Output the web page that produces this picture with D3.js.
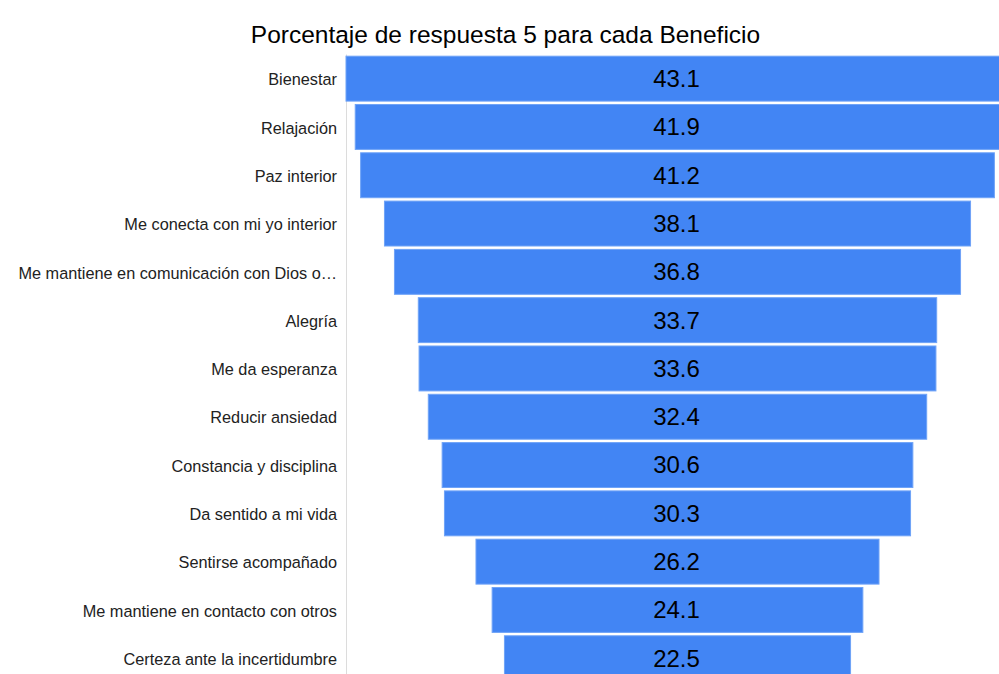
<!DOCTYPE html>
<html>
<head>
<meta charset="utf-8">
<script src="https://cdn.jsdelivr.net/npm/d3@7"></script>
<style>
  body { margin: 0; background: #fff; }
  text { font-family: Arial, "Liberation Sans", sans-serif; }
</style>
</head>
<body>
<svg id="canvas"></svg>
<script>
// Chart data.
var beneficios = ['Bienestar', 'Relajación', 'Paz interior', 'Me conecta con mi yo interior',
  'Me mantiene en comunicación con Dios o…', 'Alegría', 'Me da esperanza', 'Reducir ansiedad',
  'Constancia y disciplina', 'Da sentido a mi vida', 'Sentirse acompañado',
  'Me mantiene en contacto con otros', 'Certeza ante la incertidumbre'];
var porcentajes = [43.1, 41.9, 41.2, 38.1, 36.8, 33.7, 33.6, 32.4, 30.6, 30.3, 26.2, 24.1, 22.5];
var titulo = 'Porcentaje de respuesta 5 para cada Beneficio';

// Canvas dimensions.
var canvasWidth = 999;
var canvasHeight = 674;

// Plot area.
var plotLeft = 346;
var plotWidth = 663;
var plotTop = 54.5;
var rowHeight = 48.3;

var svg = d3.select('#canvas')
            .attr('width', canvasWidth)
            .attr('height', canvasHeight);

var maxVal = d3.max(porcentajes);

// Funnel: bars centred on zero.
var xScale = d3.scaleLinear()
               .domain([-maxVal / 2, maxVal / 2])
               .range([plotLeft, plotLeft + plotWidth]);

var yScale = d3.scaleBand()
               .domain(beneficios)
               .range([plotTop, plotTop + rowHeight * beneficios.length])
               .paddingInner(0.07)
               .paddingOuter(0.035);

// Title.
svg.append('text')
   .attr('x', 505.5)
   .attr('y', 42.5)
   .attr('text-anchor', 'middle')
   .attr('font-size', 24.5)
   .attr('fill', '#000')
   .text(titulo);

// Left axis line.
svg.append('line')
   .attr('x1', plotLeft + 0.5)
   .attr('x2', plotLeft + 0.5)
   .attr('y1', plotTop)
   .attr('y2', canvasHeight)
   .attr('stroke', '#dcdcdc');

// Category labels.
var yAxis = d3.axisLeft(yScale).tickSize(0).tickPadding(9);
var gy = svg.append('g')
            .attr('transform', 'translate(' + plotLeft + ',1.5)')
            .call(yAxis);
gy.select('.domain').remove();
gy.selectAll('text')
  .attr('font-size', 16.3)
  .attr('font-family', 'Arial, "Liberation Sans", sans-serif')
  .attr('fill', '#222');

// Bars.
svg.selectAll('rect.bar')
   .data(porcentajes)
   .enter()
   .append('rect')
   .attr('class', 'bar')
   .attr('x', function(d) { return xScale(-d / 2); })
   .attr('y', function(d, i) { return yScale(beneficios[i]); })
   .attr('width', function(d) { return xScale(d / 2) - xScale(-d / 2); })
   .attr('height', yScale.bandwidth())
   .attr('fill', '#4285f4')
   .attr('stroke', '#6fa3f7')
   .attr('stroke-width', 1);

// Value labels.
svg.selectAll('text.value')
   .data(porcentajes)
   .enter()
   .append('text')
   .attr('class', 'value')
   .attr('x', xScale(0) - 1)
   .attr('y', function(d, i) { return yScale(beneficios[i]) + yScale.bandwidth() / 2; })
   .attr('dy', '0.35em')
   .attr('text-anchor', 'middle')
   .attr('font-size', 24)
   .attr('fill', '#000')
   .text(function(d) { return d.toFixed(1); });
</script>
</body>
</html>
